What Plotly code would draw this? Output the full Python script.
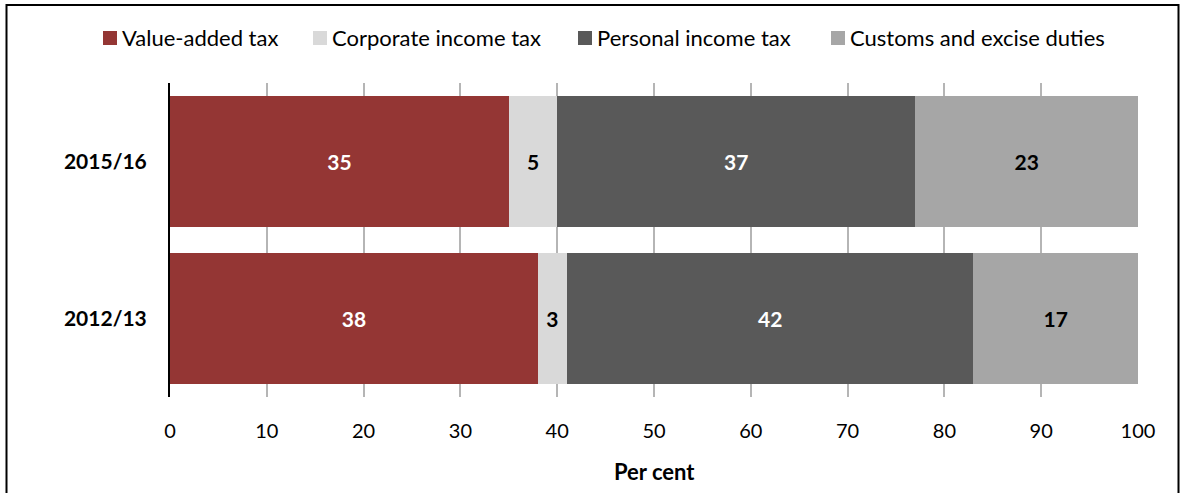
import plotly.graph_objects as go

# Share of tax revenue by tax type, per cent
years = ["2012/13", "2015/16"]
series_names = ["Value-added tax", "Corporate income tax",
                "Personal income tax", "Customs and excise duties"]
vat = [38, 35]
cit = [3, 5]
pit = [42, 37]
customs = [17, 23]
x_ticks = [0, 10, 20, 30, 40, 50, 60, 70, 80, 90, 100]

values = [vat, cit, pit, customs]
colors = ["#943634", "#D9D9D9", "#595959", "#A6A6A6"]
text_colors = ["white", "black", "white", "black"]

FONT = "Lato, Carlito, Calibri, sans-serif"

W, H = 1181, 493
ML, MR, MT, MB = 170, 43, 83, 96
PW, PH = W - ML - MR, H - MT - MB


def px_x(x):
    return (x - ML) / PW


def px_y(y):
    return (H - MB - y) / PH


fig = go.Figure()
for name, vals, col, tcol in zip(series_names, values, colors, text_colors):
    fig.add_trace(go.Bar(
        y=years, x=vals, name=name, orientation="h",
        marker=dict(color=col, line=dict(width=0)),
        text=[str(v) for v in vals], textposition="inside",
        insidetextanchor="middle", textangle=0,
        textfont=dict(family=FONT, size=21, color=tcol, weight="bold"),
        showlegend=False, hoverinfo="skip",
    ))

shapes = []
annotations = []

# outer frame
shapes.append(dict(type="rect", xref="paper", yref="paper",
                   x0=px_x(6.5), x1=px_x(1178.5), y0=px_y(520), y1=px_y(5),
                   line=dict(color="black", width=2), fillcolor="rgba(0,0,0,0)",
                   layer="above"))

# legend row
legend_x = [103, 313, 578, 831]
for name, col, lx in zip(series_names, colors, legend_x):
    shapes.append(dict(type="rect", xref="paper", yref="paper",
                       x0=px_x(lx), x1=px_x(lx + 14), y0=px_y(45), y1=px_y(31),
                       line=dict(width=0), fillcolor=col))
    annotations.append(dict(text=name, xref="paper", yref="paper",
                            x=px_x(lx + 17), y=px_y(38), xanchor="left",
                            yanchor="middle", showarrow=False,
                            font=dict(family=FONT, size=22, color="black")))

# x-axis title
annotations.append(dict(text="<b>Per cent</b>", xref="paper", yref="paper",
                        x=0.5, y=px_y(471), xanchor="center", yanchor="middle",
                        showarrow=False,
                        font=dict(family=FONT, size=22, color="black")))

fig.update_layout(
    width=W, height=H,
    margin=dict(l=ML, r=MR, t=MT, b=MB, pad=0),
    barmode="stack", bargap=0.166,
    plot_bgcolor="white", paper_bgcolor="white",
    font=dict(family=FONT, size=20, color="black"),
    shapes=shapes, annotations=annotations,
    xaxis=dict(range=[0, 100], tickvals=x_ticks, showgrid=True,
               gridcolor="#B5B5B5", gridwidth=1.5, zeroline=False,
               showline=False, ticks="outside", ticklen=16,
               tickcolor="rgba(0,0,0,0)",
               tickfont=dict(family=FONT, size=20, color="black"),
               fixedrange=True),
    yaxis=dict(showline=True, linecolor="black", linewidth=2,
               showgrid=False, zeroline=False, ticks="outside", ticklen=17,
               tickcolor="rgba(0,0,0,0)",
               tickfont=dict(family=FONT, size=21, color="black", weight="bold"),
               fixedrange=True),
)

fig.write_html("out.html")
